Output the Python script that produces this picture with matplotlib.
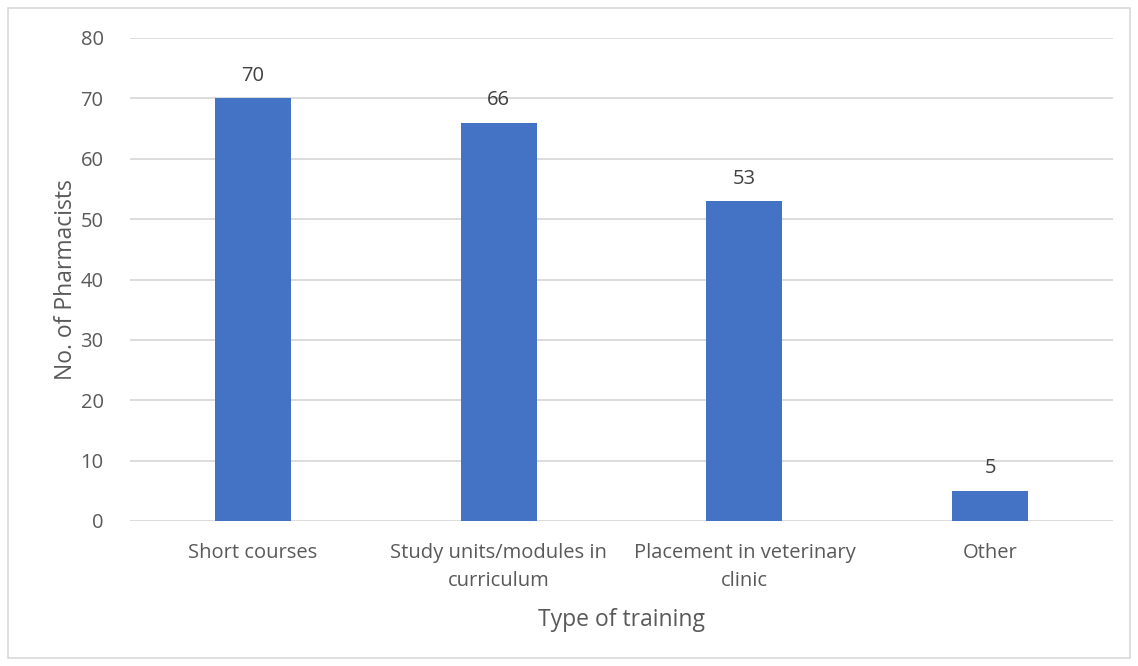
import matplotlib.pyplot as plt
from matplotlib.patches import Rectangle

categories = ["Short courses", "Study units/modules in\ncurriculum",
              "Placement in veterinary\nclinic", "Other"]
counts = [70, 66, 53, 5]
y_ticks = [0, 10, 20, 30, 40, 50, 60, 70, 80]

text_color = "#595959"
bar_color = "#4472C4"
grid_color = "#D9D9D9"

plt.rcParams['font.family'] = ['Open Sans', 'DejaVu Sans']

fig = plt.figure(figsize=(11.38, 6.66), dpi=100)
ax = fig.add_axes([130/1138, 1 - 521/666, (1113 - 130)/1138, (521 - 38)/666])

# outer chart border
fig.patches.append(Rectangle((8/1138, 8/666), (1130 - 8)/1138, (658 - 8)/666,
                             transform=fig.transFigure, fill=False,
                             edgecolor="#D9D9D9", linewidth=1.2))

x = range(len(categories))
ax.bar(x, counts, width=0.31, color=bar_color, zorder=3)
for xi, v in zip(x, counts):
    ax.annotate(str(v), (xi, v), xytext=(0, 9), textcoords="offset points",
                ha="center", va="bottom", fontsize=14.5, color="#404040")

ax.set_xlim(-0.5, len(categories) - 0.5)
ax.set_ylim(0, 80)
ax.set_yticks(y_ticks)
ax.set_xticks(list(x))
ax.set_xticklabels(categories, fontsize=14.5, color=text_color, linespacing=1.55)
ax.tick_params(axis="y", labelsize=14.5, labelcolor=text_color, length=0, pad=19)
ax.tick_params(axis="x", length=0, pad=16)
ax.grid(axis="y", color=grid_color, linewidth=1.3, zorder=0)
for s in ax.spines.values():
    s.set_visible(False)

ax.set_xlabel("Type of training", fontsize=16.5, color=text_color, labelpad=12)
ax.set_ylabel("No. of Pharmacists", fontsize=16.5, color=text_color, labelpad=2)

fig.savefig("out.png", dpi=100)
